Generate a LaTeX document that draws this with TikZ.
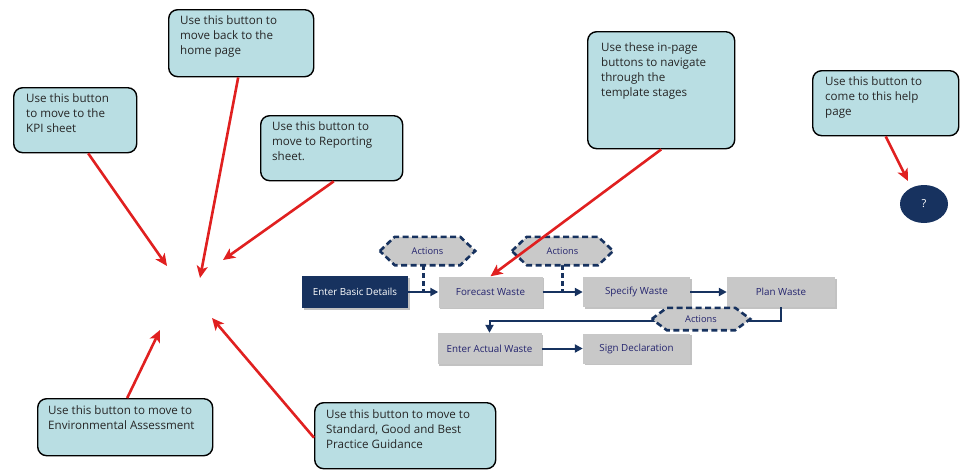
\documentclass[tikz,border=0pt]{standalone}
\usepackage{fontspec}
\setmainfont{Open Sans}
\usetikzlibrary{arrows.meta,shadows,shapes.geometric}
\definecolor{cfill}{HTML}{B9DEE3}
\definecolor{navy}{HTML}{17325F}
\definecolor{flowtext}{HTML}{24246E}
\definecolor{boxgray}{HTML}{C8C8C8}
\definecolor{hexgray}{HTML}{C9C9C9}
\definecolor{redarrow}{HTML}{E02020}
\begin{document}
\begin{tikzpicture}[x=1pt,y=-1pt,
  callout/.style={draw=black, line width=1.4pt, rounded corners=9pt, fill=cfill, anchor=north west, inner sep=0pt},
  ctext/.style={anchor=north west, align=left, inner sep=0pt, font=\fontsize{11.6}{15}\selectfont, text=black!85},
  redarr/.style={draw=redarrow, line width=2.6pt, -{Stealth[length=12pt,width=11pt,inset=3pt]}},
  flowbox/.style={fill=boxgray, minimum width=104pt, minimum height=31pt, inner sep=0pt, text=flowtext, font=\fontsize{9.8}{11}\selectfont, drop shadow={shadow xshift=1.5pt, shadow yshift=-1.5pt, fill=black!40, opacity=0.6}},
  darkbox/.style={flowbox, fill=navy, text=white},
  navyarr/.style={draw=navy, line width=2pt, -{Triangle[length=8pt,width=8pt]}},
  dashline/.style={draw=navy, line width=2.6pt, dash pattern=on 5pt off 3pt},
  hexframe/.style={draw=navy, fill=hexgray, line width=2.6pt, dash pattern=on 6pt off 3.5pt},
  hexlabel/.style={inner sep=0pt, text=flowtext, font=\fontsize{9.3}{10}\selectfont},
  hexbox/.style={inner sep=0pt, draw=none}
]
\useasboundingbox (0,0) rectangle (962,472);

% callouts
\node[callout, minimum width=123pt, minimum height=65pt] (kpi) at (13,87) {};
\node[ctext] (kpit) at (26,93) {Use this button\\to move to the\\KPI sheet};
\node[callout, minimum width=145pt, minimum height=67pt] (home) at (168,9) {};
\node[ctext] (homet) at (180,15) {Use this button to\\move back to the\\home page};
\node[callout, minimum width=142pt, minimum height=65pt] (rep) at (260,115) {};
\node[ctext] (rept) at (272,121) {Use this button to\\move to Reporting\\sheet.};
\node[callout, minimum width=147pt, minimum height=117pt] (inpage) at (587,31) {};
\node[ctext] (inpaget) at (601,42) {Use these in-page\\buttons to navigate\\through the\\template stages};
\node[callout, minimum width=146pt, minimum height=65pt] (help) at (812,70) {};
\node[ctext] (helpt) at (825,76) {Use this button to\\come to this help\\page};
\node[callout, minimum width=175pt, minimum height=57pt] (env) at (37,398) {};
\node[ctext] (envt) at (48,405) {Use this button to move to\\Environmental Assessment};
\node[callout, minimum width=181pt, minimum height=66pt] (std) at (314,402) {};
\node[ctext] (stdt) at (326,409) {Use this button to move to\\Standard, Good and Best\\Practice Guidance};

% help button
\node[ellipse, fill=navy, minimum width=48pt, minimum height=38pt, inner sep=0pt, text=white, font=\fontsize{11}{12}\selectfont] (q) at (924,204) {?};

% flow boxes
\node[darkbox, minimum width=106pt, minimum height=32pt] (basic) at (355,292) {Enter Basic Details};
\node[flowbox] (forecast) at (490.5,292) {Forecast Waste};
\node[flowbox, minimum width=107pt, minimum height=30pt] (specify) at (636.5,292) {Specify Waste};
\node[flowbox, minimum width=108pt, minimum height=30pt] (plan) at (781,292) {Plan Waste};
\node[flowbox] (actual) at (489.5,348.5) {Enter Actual Waste};
\node[flowbox, minimum width=107pt, minimum height=30pt] (sign) at (636.5,348.5) {Sign Declaration};

% hexagon placeholders
\node[hexbox, minimum width=95pt, minimum height=28pt] (h1) at (427.5,251) {};
\node[hexbox, minimum width=101pt, minimum height=28pt] (h2) at (562.5,251) {};
\node[hexbox, minimum width=98pt, minimum height=22pt] (h3) at (701,319) {};

% flow connectors
\draw[navyarr] (basic) -- (forecast);
\draw[navyarr] (forecast) -- (specify);
\draw[navyarr] (specify) -- (plan);
\draw[navyarr] (actual) -- (sign);
\draw[navyarr] (plan.south) -- ++(0,14) -| (actual.north);
\draw[dashline] ([xshift=-4pt]h1.south) -- ([xshift=-4pt]h1.south |- basic.east);
\draw[dashline] (h2.south) -- (h2.south |- forecast.east);

% hexagons
\foreach \h in {h1,h2,h3}{
  \draw[hexframe] (\h.west) -- ([xshift=15pt]\h.north west) -- ([xshift=-15pt]\h.north east) -- (\h.east) -- ([xshift=-15pt]\h.south east) -- ([xshift=15pt]\h.south west) -- cycle;
}
\node[hexlabel] (h1t) at (h1) {Actions};
\node[hexlabel] (h2t) at (h2) {Actions};
\node[hexlabel] (h3t) at (h3) {Actions};

% red arrows
\coordinate (tkpi) at (167,266);
\coordinate (thome) at (200,278);
\coordinate (trep) at (223,260);
\coordinate (tenv) at (160,330);
\coordinate (tstd) at (212,318);
\coordinate (tq) at (908,181);
\draw[redarr] ([xshift=13pt]kpi.south) -- (tkpi);
\draw[redarr] ([xshift=-3pt]home.south) -- (thome);
\draw[redarr] ([xshift=2pt]rep.south) -- (trep);
\draw[redarr] ([xshift=2pt]env.north) -- (tenv);
\draw[redarr] ([yshift=-2pt]std.west) -- (tstd);
\draw[redarr] (inpage.south) -- (forecast.north);
\draw[redarr] (help.south) -- (tq);
\end{tikzpicture}
\end{document}
